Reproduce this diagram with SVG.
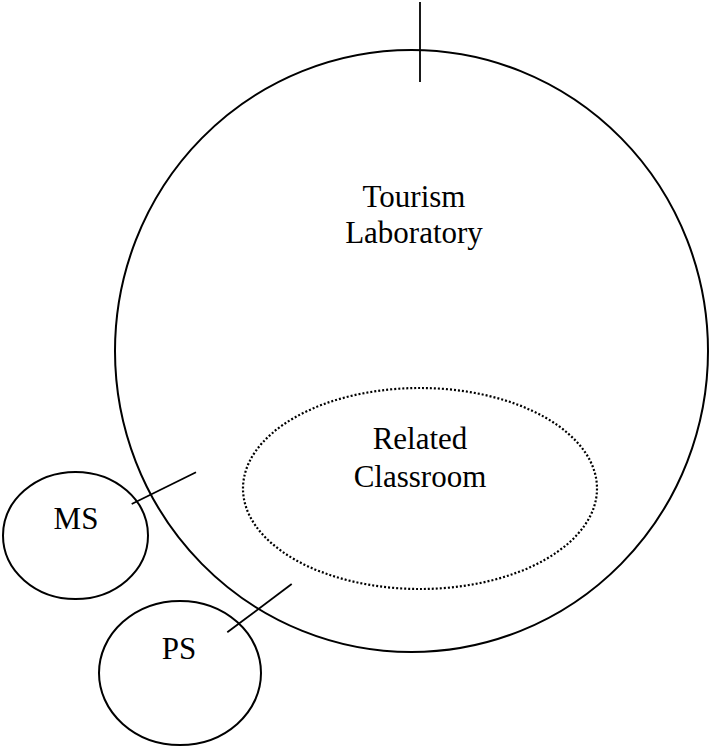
<svg xmlns="http://www.w3.org/2000/svg" width="709" height="746" viewBox="0 0 709 746">
<style>
.shape{fill:none;stroke:#000;stroke-width:2}
.dot{fill:none;stroke:#000;stroke-width:2.2;stroke-dasharray:2 2}
.lbl{font-family:"Liberation Serif","Times New Roman",serif;font-size:31px;fill:#000;text-anchor:middle}
.conn{stroke:#000;stroke-width:1.8;fill:none}
</style>
<rect width="709" height="746" fill="#fff"/>
<g id="tourism-lab">
<ellipse class="shape" cx="411.5" cy="351" rx="296.5" ry="301"/>
<text class="lbl" x="414" y="207">Tourism</text>
<text class="lbl" x="414" y="243">Laboratory</text>
</g>
<g id="related-classroom">
<ellipse class="dot" cx="420" cy="488.5" rx="177" ry="100.5"/>
<text class="lbl" x="420" y="449">Related</text>
<text class="lbl" x="420" y="487">Classroom</text>
</g>
<g id="ms">
<ellipse class="shape" cx="75.5" cy="535.5" rx="72.5" ry="63.5"/>
<text class="lbl" x="76" y="529">MS</text>
</g>
<g id="ps">
<ellipse class="shape" cx="180" cy="673" rx="81" ry="72"/>
<text class="lbl" x="179" y="659">PS</text>
</g>
<g id="connectors">
<line class="conn" x1="420" y1="2" x2="420" y2="82"/>
<line class="conn" x1="131.7" y1="504" x2="196" y2="472.3"/>
<line class="conn" x1="227.3" y1="632.3" x2="291.7" y2="584"/>
</g>
</svg>
